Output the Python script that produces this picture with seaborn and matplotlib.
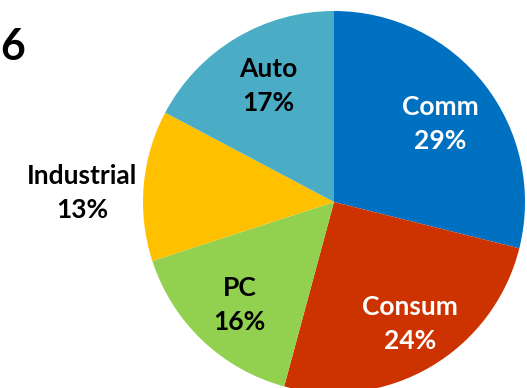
import numpy as np
import matplotlib
matplotlib.use("Agg")
import matplotlib.pyplot as plt
import seaborn as sns

# Data
categories = ["Comm", "Consum", "PC", "Industrial", "Auto"]
shares = [28.9, 25.3, 15.8, 12.75, 17.25]
pct_labels = ["29%", "24%", "16%", "13%", "17%"]
title_text = "2016"

# Styles
colors = ["#0070C0", "#CC3300", "#92D050", "#FFC000", "#4BACC6"]
text_colors = ["white", "white", "black", "black", "black"]
label_radius = [0.69, 0.75, 0.73, 1.32, 0.70]
label_angle_shift = [-1.5, 1.5, 1.0, 3.0, -1.5]

sns.set_theme(style="white")
plt.rcParams["font.family"] = ["Lato", "DejaVu Sans"]

W, H, DPI = 527, 388, 100
fig = plt.figure(figsize=(W / DPI, H / DPI), dpi=DPI)
ax = fig.add_axes([0, 0, 1, 1])

cx, cy, R = 334.0, 388 - 202.0, 191.0  # pixel geometry of the pie
wedges, _ = ax.pie(shares, colors=colors, startangle=90, counterclock=False,
                   radius=1.0, wedgeprops=dict(linewidth=0))
ax.set_xlim(-cx / R, (W - cx) / R)
ax.set_ylim(-cy / R, (H - cy) / R)
ax.set_aspect("auto")
ax.axis("off")

for w, cat, pct, tc, r, da in zip(wedges, categories, pct_labels, text_colors,
                                  label_radius, label_angle_shift):
    mid = np.deg2rad((w.theta1 + w.theta2) / 2 + da)
    x, y = r * np.cos(mid), r * np.sin(mid)
    ax.text(x, y, f"{cat}\n{pct}", ha="center", va="center", color=tc,
            fontsize=19, fontweight="bold", linespacing=1.5)

fig.text(26 / W, 1 - 47 / H, title_text, ha="right", va="center",
         fontsize=31, fontweight="bold", color="black")

fig.savefig("out.png", dpi=DPI)
